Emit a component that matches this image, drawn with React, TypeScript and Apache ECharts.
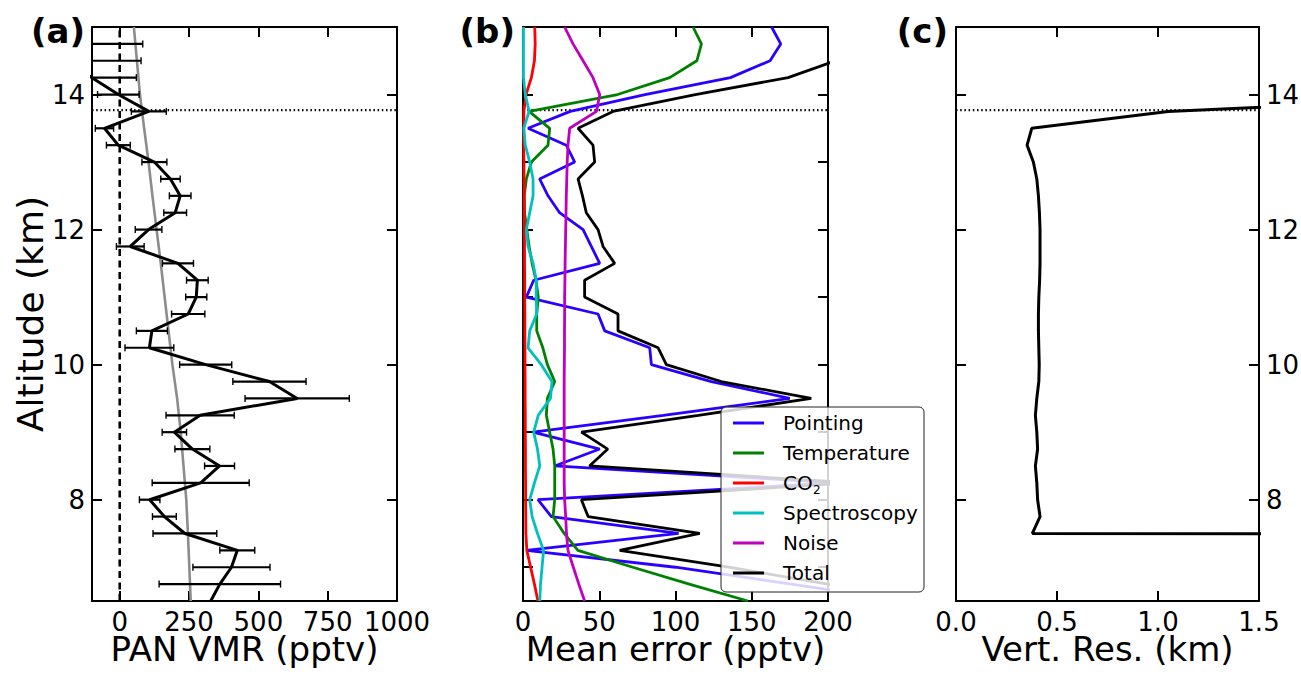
import React, { useEffect, useRef } from "react";
import * as echarts from "echarts";

// ---------- data ----------
const TROPOPAUSE_KM = 13.77;

// Panel (a): retrieved PAN VMR with errors (pptv)
const altA = [14.75, 14.5, 14.25, 14.0, 13.75, 13.5, 13.25, 13.0, 12.75, 12.5, 12.25, 12.0, 11.75, 11.5, 11.25, 11.0, 10.75, 10.5, 10.25, 10.0, 9.75, 9.5, 9.25, 9.0, 8.75, 8.5, 8.25, 8.0, 7.75, 7.5, 7.25, 7.0, 6.75, 6.5];
const panVmr = [-250, -200, -100, -5, 105, -55, -5, 125, 183, 218, 200, 104, 38, 210, 280, 276, 247, 116, 107, 310, 540, 640, 290, 197, 262, 360, 292, 108, 161, 235, 424, 403, 361, 328];
const panErr = [333, 277, 160, 75, 63, 33, 43, 45, 35, 39, 41, 48, 50, 56, 39, 38, 60, 56, 88, 94, 132, 188, 123, 44, 63, 54, 175, 37, 43, 115, 63, 139, 219, null];

// Panel (a): a priori profile
const aprioriAlt = [15.0, 14.5, 14.0, 13.5, 13.0, 12.5, 12.0, 11.5, 11.0, 10.5, 10.0, 9.5, 9.0, 8.5, 8.0, 7.5, 7.0, 6.5];
const aprioriVmr = [51, 62, 73, 88, 104, 118, 133, 148, 162, 176, 190, 207, 220, 230, 240, 246, 251, 256];

// Panel (b): error budget (pptv)
const altB = [15.0, 14.75, 14.5, 14.25, 14.0, 13.75, 13.5, 13.25, 13.0, 12.75, 12.5, 12.25, 12.0, 11.75, 11.5, 11.25, 11.0, 10.75, 10.5, 10.25, 10.0, 9.75, 9.5, 9.25, 9.0, 8.75, 8.5, 8.25, 8.0, 7.75, 7.5, 7.25, 7.0, 6.75, 6.5];
const pointing = [163, 169, 162, 136, 80, 31, 3.3, 28.4, 33.9, 10.9, 16.4, 24, 39.4, 44.8, 50.3, 7, 2.2, 49.2, 53.6, 83.1, 84.2, 123.5, 174.9, 92, 6.6, 50.3, 20.8, 205, 9.8, 18.6, 102, 2.2, 100, 176, 250];
const temperature = [111.5, 117, 114, 96.2, 62, 4, 17.5, 16.4, 5.5, 2.2, 0.8, 1, 2.5, 4, 6, 8.5, 10, 9, 9, 13, 16, 20.8, 16, 15.3, 17.5, 19.7, 20.8, 20.8, 20.8, 19.7, 27, 36, 72, 109, 147.5];
const co2 = [7.7, 8, 7.5, 5.5, 2, 0.6, 0.5, 0.5, 0.6, 0.7, 0.8, 0.8, 0.9, 1, 1, 1.1, 1.1, 1.2, 1.2, 1.3, 1.3, 1.4, 1.4, 1.5, 1.5, 1.6, 1.6, 1.7, 1.7, 1.8, 1.9, 2.5, 5, 7.5, 9.8];
const spectroscopy = [0.3, 0.3, 0.3, 0.3, 1.5, 4, 0.5, 1.5, 4.4, 6.6, 6.6, 4.4, 2.2, 3.3, 6.6, 8.7, 8.7, 9, 4.4, 3.3, 12, 19, 18, 10, 7, 9.5, 11, 7.5, 4.4, 6, 9.5, 13.5, 12.5, 11.5, 11];
const noise = [27.3, 32.8, 39.4, 45.9, 50.3, 48.2, 30.6, 29.5, 29, 28.7, 28.4, 28.2, 28, 27.8, 27.6, 27.5, 27.3, 27.3, 27.2, 27.2, 27.1, 27, 27, 27, 27, 27, 27, 27, 27.3, 28, 28.5, 29.5, 33, 36.6, 40.4];
const total = [240, 230, 205, 173.8, 113, 59, 36.1, 45.9, 47, 36.1, 39, 41.5, 49.2, 52.5, 60.1, 40.4, 40.4, 62.3, 62.3, 88.6, 94, 130, 189, 115, 38.3, 55.6, 43.6, 215, 38.3, 42.7, 115.9, 63.4, 135, 200, 265];

// Panel (c): vertical resolution (km)
const altC = [14.0, 13.75, 13.5, 13.25, 13.0, 12.75, 12.5, 12.25, 12.0, 11.75, 11.5, 11.25, 11.0, 10.75, 10.5, 10.25, 10.0, 9.75, 9.5, 9.25, 9.0, 8.75, 8.5, 8.25, 8.0, 7.75, 7.5, 7.25];
const vertRes = [2.9, 1.05, 0.375, 0.352, 0.383, 0.4, 0.408, 0.413, 0.416, 0.416, 0.416, 0.414, 0.41, 0.408, 0.408, 0.41, 0.412, 0.41, 0.4, 0.393, 0.4, 0.404, 0.393, 0.4, 0.404, 0.416, 0.378, 60];

// ticks
const xTicksA = [0, 250, 500, 750, 1000];
const yTicksMajor = [8, 10, 12, 14];
const yTicksB = [7, 8, 9, 10, 11, 12, 13, 14];

const legendItems = [
  { name: "Pointing", color: "#2a00ff", data: pointing },
  { name: "Temperature", color: "#008000", data: temperature },
  { name: "CO2", color: "#ff0000", data: co2 },
  { name: "Spectroscopy", color: "#00bfbf", data: spectroscopy },
  { name: "Noise", color: "#bf00bf", data: noise },
  { name: "Total", color: "#000000", data: total },
];

// ---------- layout ----------
const FONT = "DejaVu Sans";
const Y_MIN = 6.5;
const Y_MAX = 15;
const grids = [
  { left: 92, top: 27, width: 305, height: 574 },
  { left: 523, top: 27, width: 305, height: 574 },
  { left: 956, top: 27, width: 303, height: 574 },
];

const axisLineStyle = { lineStyle: { color: "#000", width: 2 } };
const tickBase = { inside: true, length: 10, lineStyle: { color: "#000", width: 2 } };
const labelBase = { color: "#000", fontSize: 26, fontFamily: FONT };
const TITLE_SIZE = 34;

function xAxisPair(gridIndex: number, cfg: any, name: string) {
  const bottom: any = {
    type: "value",
    gridIndex,
    position: "bottom",
    min: cfg.min,
    max: cfg.max,
    interval: cfg.interval,
    axisLine: { show: true, onZero: false, ...axisLineStyle },
    axisTick: { ...tickBase, customValues: cfg.ticks },
    axisLabel: { ...labelBase, margin: 8, customValues: cfg.ticks, formatter: cfg.formatter },
    splitLine: { show: false },
    name,
    nameLocation: "middle",
    nameGap: 31,
    nameMoveOverlap: false,
    nameTextStyle: { color: "#000", fontSize: TITLE_SIZE, fontFamily: FONT, lineHeight: 34 },
  };
  const top: any = {
    type: "value",
    gridIndex,
    position: "top",
    min: cfg.min,
    max: cfg.max,
    interval: cfg.interval,
    axisLine: { show: true, onZero: false, ...axisLineStyle },
    axisTick: { ...tickBase, customValues: cfg.ticks },
    axisLabel: { show: false },
    splitLine: { show: false },
  };
  return [bottom, top];
}

function yAxisPair(gridIndex: number, ticks: number[], labelSide: "left" | "right" | "none", name?: string) {
  const mk = (pos: "left" | "right"): any => ({
    type: "value",
    gridIndex,
    position: pos,
    min: Y_MIN,
    max: Y_MAX,
    axisLine: { show: true, onZero: false, ...axisLineStyle },
    axisTick: { ...tickBase, customValues: ticks },
    axisLabel:
      labelSide === pos
        ? { ...labelBase, margin: 7, customValues: ticks, formatter: (v: number) => String(v) }
        : { show: false },
    splitLine: { show: false },
  });
  const l = mk("left");
  const r = mk("right");
  if (name) {
    l.name = name;
    l.nameLocation = "middle";
    l.nameGap = 43;
    l.nameRotate = 90;
    l.nameTextStyle = { color: "#000", fontSize: 36, fontFamily: FONT };
  }
  return [l, r];
}

function lineSeries(name: string, xs: number[], ys: number[], axIdx: number, color: string, width: number, extra: any = {}) {
  return {
    type: "line",
    name,
    xAxisIndex: axIdx,
    yAxisIndex: axIdx,
    data: xs.map((x, i) => [x, ys[i]]),
    showSymbol: false,
    symbol: "none",
    silent: true,
    clip: true,
    lineStyle: { color, width, ...(extra.lineStyle || {}) },
    z: extra.z ?? 2,
  };
}

export default function App() {
  const ref = useRef<HTMLDivElement>(null);

  useEffect(() => {
    if (!ref.current) return;
    const chart = echarts.init(ref.current, undefined, { renderer: "svg" });

    const [xa0, xa1] = xAxisPair(
      0,
      { min: -100, max: 1000, ticks: xTicksA, formatter: (v: number) => String(v) },
      "PAN VMR (pptv)"
    );
    const [xb0, xb1] = xAxisPair(1, { min: 0, max: 200, interval: 50, formatter: (v: number) => String(v) }, "Mean error (pptv)");
    const [xc0, xc1] = xAxisPair(
      2,
      { min: 0, max: 1.5, interval: 0.5, formatter: (v: number) => v.toFixed(1) },
      "Vert. Res. (km)"
    );
    const [ya0, ya1] = yAxisPair(0, yTicksMajor, "left", "Altitude (km)");
    const [yb0, yb1] = yAxisPair(1, yTicksB, "none");
    const [yc0, yc1] = yAxisPair(2, yTicksMajor, "right");

    const errData = altA
      .map((a, i) => (panErr[i] == null ? null : [panVmr[i], a, panErr[i]]))
      .filter((d) => d !== null);

    const dotted = (axIdx: number, xmin: number, xmax: number) =>
      lineSeries("tropopause" + axIdx, [xmin, xmax], [TROPOPAUSE_KM, TROPOPAUSE_KM], axIdx, "#000", 2.2, {
        lineStyle: { type: [1.5, 2.7] },
        z: 1,
      });

    const series: any[] = [
      dotted(0, -100, 1000),
      lineSeries("zero", [0, 0], [Y_MIN, Y_MAX], 0, "#000", 2.6, { lineStyle: { type: [7, 4.5] }, z: 1 }),
      lineSeries("a priori", aprioriVmr, aprioriAlt, 0, "#8c8c8c", 2.6, { z: 2 }),
      {
        type: "custom",
        name: "errorbars",
        xAxisIndex: 0,
        yAxisIndex: 0,
        data: errData,
        encode: { x: 0, y: 1 },
        silent: true,
        z: 3,
        renderItem: (params: any, api: any) => {
          const x = api.value(0);
          const y = api.value(1);
          const e = api.value(2);
          const cs = params.coordSys;
          const p1 = api.coord([x - e, y]);
          const p2 = api.coord([x + e, y]);
          const xl = Math.max(p1[0], cs.x);
          const xr = Math.min(p2[0], cs.x + cs.width);
          const children: any[] = [];
          if (xr > xl) {
            children.push({
              type: "line",
              shape: { x1: xl, y1: p1[1], x2: xr, y2: p1[1] },
              style: { stroke: "#000", lineWidth: 2.2 },
            });
          }
          const cap = 3.5;
          if (p1[0] >= cs.x)
            children.push({
              type: "line",
              shape: { x1: p1[0], y1: p1[1] - cap, x2: p1[0], y2: p1[1] + cap },
              style: { stroke: "#000", lineWidth: 1.4 },
            });
          if (p2[0] >= cs.x && p2[0] <= cs.x + cs.width)
            children.push({
              type: "line",
              shape: { x1: p2[0], y1: p2[1] - cap, x2: p2[0], y2: p2[1] + cap },
              style: { stroke: "#000", lineWidth: 1.4 },
            });
          return { type: "group", children };
        },
      },
      lineSeries("PAN", panVmr, altA, 0, "#000", 3, { z: 4 }),
    ];

    series.push(dotted(2, 0, 200));
    legendItems.forEach((it, k) => {
      series.push(lineSeries(it.name, it.data, altB, 2, it.color, 2.8, { z: 2 + k }));
    });

    series.push(dotted(4, 0, 1.5));
    series.push(lineSeries("Vert. Res.", vertRes, altC, 4, "#000", 3, { z: 3 }));

    // legend drawn as graphic, on top of the lines
    const LZ = 100;
    const lg = { x: 721, y: 407, w: 203, h: 185 };
    const textStyle = (text: string, size: number) => ({
      text,
      fill: "#000",
      font: `${size}px "${FONT}"`,
      textAlign: "left",
      textVerticalAlign: "middle",
      align: "left",
      verticalAlign: "middle",
    });
    const legendEls: any[] = [
      {
        type: "rect",
        z: LZ,
        shape: { x: lg.x, y: lg.y, width: lg.w, height: lg.h, r: 5 },
        style: { fill: "rgba(255,255,255,0.82)", stroke: "#222", lineWidth: 1 },
      },
    ];
    legendItems.forEach((it, i) => {
      const cy = 423 + i * 30;
      legendEls.push({
        type: "line",
        z: LZ + 1,
        shape: { x1: 733, y1: cy, x2: 764, y2: cy },
        style: { stroke: it.color, lineWidth: 3 },
      });
      if (it.name === "CO2") {
        legendEls.push({ type: "text", z: LZ + 1, x: 783, y: cy, style: textStyle("CO", 20) });
        legendEls.push({ type: "text", z: LZ + 1, x: 813, y: cy + 7, style: textStyle("2", 12) });
      } else {
        legendEls.push({ type: "text", z: LZ + 1, x: 783, y: cy, style: textStyle(it.name, 20) });
      }
    });

    const panelLabel = (txt: string, xr: number) => ({
      type: "text",
      z: LZ,
      x: xr,
      y: 31,
      style: {
        text: txt,
        fill: "#000",
        font: `bold 34px "${FONT}"`,
        textAlign: "right",
        textVerticalAlign: "middle",
        align: "right",
        verticalAlign: "middle",
      },
    });

    chart.setOption({
      animation: false,
      backgroundColor: "#fff",
      textStyle: { fontFamily: FONT },
      grid: grids.map((g) => ({ ...g, containLabel: false, outerBoundsMode: "none" })),
      xAxis: [xa0, xa1, xb0, xb1, xc0, xc1],
      yAxis: [ya0, ya1, yb0, yb1, yc0, yc1],
      series,
      graphic: [...legendEls, panelLabel("(a)", 85), panelLabel("(b)", 515), panelLabel("(c)", 948)],
    });

    return () => chart.dispose();
  }, []);

  return (
    <div
      ref={ref}
      style={{ position: "fixed", left: 0, top: 0, width: 1301, height: 675, background: "#fff" }}
    />
  );
}
